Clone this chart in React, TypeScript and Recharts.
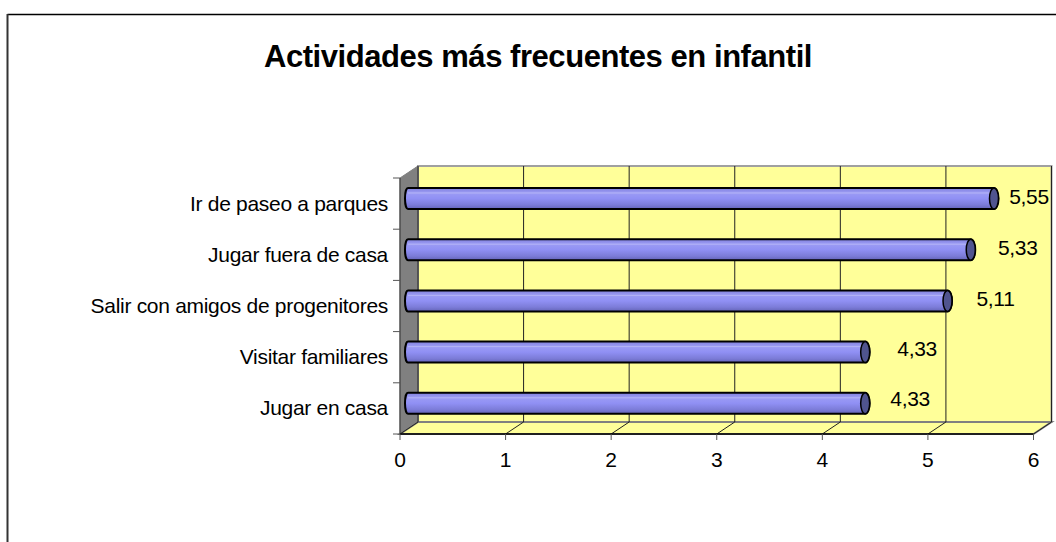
import { BarChart, Bar, XAxis, YAxis, CartesianGrid, LabelList } from "recharts";

const categories = [
  "Ir de paseo a parques",
  "Jugar fuera de casa",
  "Salir con amigos de progenitores",
  "Visitar familiares",
  "Jugar en casa",
];
const values = [5.55, 5.33, 5.11, 4.33, 4.33];
const xTicks = [0, 1, 2, 3, 4, 5, 6];
const title = "Actividades más frecuentes en infantil";

const data = categories.map((name, i) => ({ name, value: values[i] }));

// plot front face, everything 3D hangs off of it
const W = 1056;
const H = 542;
const LEFT = 400;
const TOP = 178;
const RIGHT = 1033.5;
const BOTTOM = 434;
const DX = 18;
const DY = -12;
const FONT = "'Liberation Sans', Arial, sans-serif";
const BAND = (BOTTOM - TOP) / categories.length;
// the original's labels are not evenly placed
const labelGaps = [35, 47, 48, 52, 45];
const labelLifts = [0, 0, 0, 1, 2];

function Box3D() {
  const bx = LEFT + DX;
  const by = TOP + DY;
  const bb = BOTTOM + DY;
  const br = RIGHT + DX;
  return (
    <svg width={W} height={H} style={{ position: "absolute", left: 0, top: 0 }}>
      <line x1={7.5} y1={14.5} x2={W} y2={14.5} stroke="#000" strokeWidth={1.5} />
      <line x1={7.5} y1={14} x2={7.5} y2={H} stroke="#333" strokeWidth={2} />
      <polygon points={`${bx},${by} ${br},${by} ${br},${bb} ${bx},${bb}`} fill="#ffff99" stroke="#a0a0a0" strokeWidth={2} />
      <polygon points={`${LEFT},${BOTTOM} ${RIGHT},${BOTTOM} ${br},${bb} ${bx},${bb}`} fill="#ffff99" stroke="#808080" strokeWidth={2} />
      <polygon points={`${LEFT},${TOP} ${bx},${by} ${bx},${bb} ${LEFT},${BOTTOM}`} fill="#808080" stroke="#808080" strokeWidth={1} />
    </svg>
  );
}

function GridLine(props: any) {
  const { x1, y1, y2 } = props;
  return (
    <g key={props.key}>
      <line x1={x1 + DX} y1={y1 + DY} x2={x1 + DX} y2={y2 + DY} stroke="#222" strokeWidth={1} />
      <line x1={x1} y1={y2} x2={x1 + DX} y2={y2 + DY} stroke="#222" strokeWidth={1} />
    </g>
  );
}

function Cylinder(props: any) {
  const { x, y, width, height } = props;
  const left = x + 8;
  const top = y - 5;
  const right = left + width;
  const rx = 4.5;
  const ry = height / 2;
  const body = `M${left},${top} L${right},${top} A${rx},${ry} 0 0 1 ${right},${top + height} L${left},${top + height} A3,${ry} 0 0 1 ${left},${top} Z`;
  return (
    <g>
      <path d={body} fill="url(#cylinderFill)" stroke="#000" strokeWidth={2} />
      <line x1={left} y1={top + 5} x2={right - 2} y2={top + 5} stroke="#b4b4f6" strokeWidth={1} />
      <ellipse cx={right} cy={top + ry} rx={rx} ry={ry} fill="#50548f" stroke="#000" strokeWidth={1.5} />
    </g>
  );
}

function CategoryTick(props: any) {
  const { y, payload, index } = props;
  return (
    <g>
      <line x1={LEFT - 7} y1={y - BAND / 2} x2={LEFT} y2={y - BAND / 2} stroke="#555" />
      {index === categories.length - 1 && (
        <line x1={LEFT - 7} y1={y + BAND / 2} x2={LEFT} y2={y + BAND / 2} stroke="#555" />
      )}
      <text x={388} y={y + 7} textAnchor="end" fontSize={21} letterSpacing={-0.3} fontFamily={FONT} fill="#000">
        {payload.value}
      </text>
    </g>
  );
}

function ValueLabel(props: any) {
  const { x, y, width, height, value, index } = props;
  return (
    <text
      x={x + width + 8 + labelGaps[index]}
      y={y + height / 2 - labelLifts[index]}
      textAnchor="middle"
      fontSize={21}
      letterSpacing={-0.3}
      fontFamily={FONT}
      fill="#000"
    >
      {String(value).replace(".", ",")}
    </text>
  );
}

export default function App() {
  return (
    <div style={{ position: "absolute", left: 0, top: 0, width: W, height: H, background: "#fff", overflow: "hidden" }}>
      <Box3D />
      <div style={{ position: "absolute", left: 0, top: 0 }}>
        <BarChart
          width={W}
          height={H}
          data={data}
          layout="vertical"
          margin={{ top: TOP, right: W - RIGHT, bottom: H - BOTTOM - 40, left: LEFT - 320 }}
        >
          <defs>
            <linearGradient id="cylinderFill" x1="0" y1="0" x2="0" y2="1">
              <stop offset="0" stopColor="#7f7fdc" />
              <stop offset="0.22" stopColor="#9c9cf4" />
              <stop offset="0.5" stopColor="#9090f4" />
              <stop offset="0.8" stopColor="#7c7cd8" />
              <stop offset="1" stopColor="#6464b8" />
            </linearGradient>
          </defs>
          <CartesianGrid horizontal={false} vertical={GridLine} verticalValues={xTicks} />
          <XAxis
            type="number"
            domain={[0, 6]}
            ticks={xTicks}
            height={40}
            interval={0}
            axisLine={{ stroke: "#000", strokeWidth: 1.5 }}
            tickLine={{ stroke: "#555" }}
            tickSize={6}
            tickMargin={12}
            tick={{ fontSize: 21, fontFamily: FONT, fill: "#000" }}
          />
          <YAxis
            type="category"
            dataKey="name"
            width={320}
            interval={0}
            axisLine={{ stroke: "#333" }}
            tickLine={false}
            tick={CategoryTick}
          />
          <Bar dataKey="value" barSize={21} shape={Cylinder} isAnimationActive={false}>
            <LabelList dataKey="value" content={ValueLabel} />
          </Bar>
        </BarChart>
      </div>
      <div
        style={{
          position: "absolute",
          left: 0,
          width: 1076,
          top: 40,
          textAlign: "center",
          fontFamily: FONT,
          fontSize: 31,
          letterSpacing: -0.45,
          fontWeight: "bold",
          color: "#000",
          lineHeight: "34px",
        }}
      >
        {title}
      </div>
    </div>
  );
}
